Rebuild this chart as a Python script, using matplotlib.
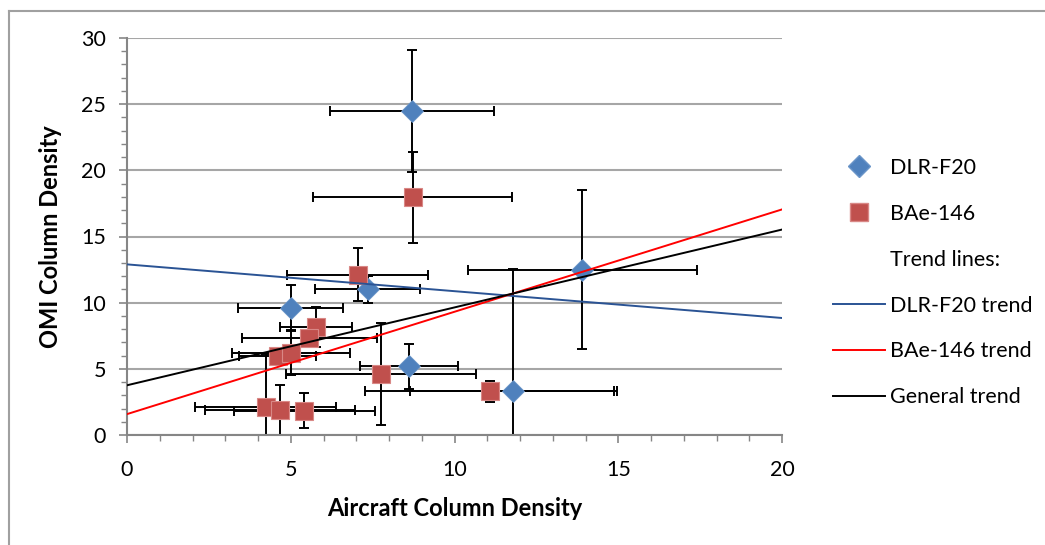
import numpy as np
import matplotlib
matplotlib.use("Agg")
import matplotlib.pyplot as plt
from matplotlib.lines import Line2D

plt.rcParams['font.family'] = ['Lato', 'DejaVu Sans']

# DLR-F20 series
dlr_x = [8.7, 13.9, 11.8, 7.35, 5.0, 8.6]
dlr_y = [24.5, 12.5, 3.35, 11.0, 9.6, 5.2]
dlr_xerr = [2.5, 3.5, 3.15, 1.6, 1.6, 1.5]
dlr_yerr = [4.6, 6.0, 9.2, 1.0, 1.7, 1.7]

# BAe-146 series
bae_x = [8.72, 7.05, 5.77, 5.57, 4.6, 5.0, 7.77, 11.08, 4.23, 4.67, 5.41]
bae_y = [17.95, 12.1, 8.15, 7.3, 5.95, 6.2, 4.6, 3.3, 2.1, 1.9, 1.85]
bae_xerr = [3.05, 2.15, 1.1, 2.05, 1.17, 1.8, 2.9, 3.8, 2.15, 2.3, 2.15]
bae_yerr = [3.45, 2.0, 1.5, 0.5, 0.5, 1.65, 3.85, 0.8, 4.05, 1.9, 1.3]

x_label = "Aircraft Column Density"
y_label = "OMI Column Density"
legend_labels = ["DLR-F20", "BAe-146", "Trend lines:", "DLR-F20 trend", "BAe-146 trend", "General trend"]

blue = '#4F81BD'
red = '#C0504D'
blue_trend = '#2A5394'
grid_gray = '#A6A6A6'
axis_gray = '#868686'

fig = plt.figure(figsize=(10.45, 5.45), dpi=100)
ax = fig.add_axes([127/1045, 1-435/545, (782-127)/1045, (435-38)/545])

# chart border (top and left visible)
fig.add_artist(Line2D([9/1045, 9/1045], [0, 1-11/545], color='#A0A0A0', lw=1.5, transform=fig.transFigure))
fig.add_artist(Line2D([9/1045, 1], [1-11/545, 1-11/545], color='#A0A0A0', lw=1.5, transform=fig.transFigure))

ax.set_xlim(0, 20)
ax.set_ylim(0, 30)
ax.set_xticks(np.arange(0, 21, 5))
ax.set_yticks(np.arange(0, 31, 5))
ax.set_xticks(np.arange(0, 21, 1), minor=True)
ax.set_yticks(np.arange(0, 31, 1), minor=True)
ax.yaxis.grid(True, which='major', color=grid_gray, lw=1.5, zorder=0)
ax.set_axisbelow(True)
for s in ['top', 'right']:
    ax.spines[s].set_visible(False)
for s in ['left', 'bottom']:
    ax.spines[s].set_color(axis_gray)
    ax.spines[s].set_linewidth(1.5)
ax.tick_params(which='major', direction='out', length=6, width=1.2, color=axis_gray, labelsize=15.5)
ax.tick_params(which='minor', direction='out', length=4, width=1.0, color=axis_gray)
ax.tick_params(axis='x', which='major', pad=12)
ax.tick_params(axis='y', which='major', pad=9)

ax.errorbar(dlr_x, dlr_y, xerr=dlr_xerr, yerr=dlr_yerr, fmt='none', ecolor='black',
            elinewidth=1.4, capsize=3.6, capthick=1.4, zorder=2)
ax.errorbar(bae_x, bae_y, xerr=bae_xerr, yerr=bae_yerr, fmt='none', ecolor='black',
            elinewidth=1.4, capsize=3.6, capthick=1.4, zorder=2)

ax.plot(dlr_x, dlr_y, linestyle='none', marker='D', markersize=11.5, color=blue,
        markeredgecolor='#6A95C8', markeredgewidth=0.6, zorder=3, clip_on=False)
ax.plot(bae_x, bae_y, linestyle='none', marker='s', markersize=13.5, color=red,
        markeredgecolor='#D98886', markeredgewidth=0.8, zorder=3, clip_on=False)

xt = np.array(ax.get_xlim())
all_x = np.array(dlr_x + bae_x)
all_y = np.array(dlr_y + bae_y)
m1, c1 = np.polyfit(dlr_x, dlr_y, 1)
m2, c2 = np.polyfit(bae_x, bae_y, 1)
m3, c3 = np.polyfit(all_x, all_y, 1)
ax.plot(xt, m1*xt + c1, color=blue_trend, lw=1.4, zorder=4)
ax.plot(xt, m2*xt + c2, color='#FF0000', lw=1.4, zorder=4)
ax.plot(xt, m3*xt + c3, color='black', lw=1.4, zorder=4)

ax.set_xlabel(x_label, fontsize=17, fontweight='bold', labelpad=12)
ax.set_ylabel(y_label, fontsize=17, fontweight='bold', labelpad=14)

handles = [
    Line2D([], [], linestyle='none', marker='D', markersize=11.5, color=blue, markeredgecolor='#6A95C8'),
    Line2D([], [], linestyle='none', marker='s', markersize=13.5, color=red, markeredgecolor='#D98886'),
    Line2D([], [], linestyle='none'),
    Line2D([], [], color=blue_trend, lw=1.4),
    Line2D([], [], color='#FF0000', lw=1.4),
    Line2D([], [], color='black', lw=1.4),
]
fig.legend(handles, legend_labels, loc='upper left', bbox_to_anchor=(833/1045, 1-158/545),
           frameon=False, fontsize=15.5, handlelength=2.4, handletextpad=0.25,
           labelspacing=1.2, borderpad=0, borderaxespad=0)

fig.savefig('out.png', dpi=100)
